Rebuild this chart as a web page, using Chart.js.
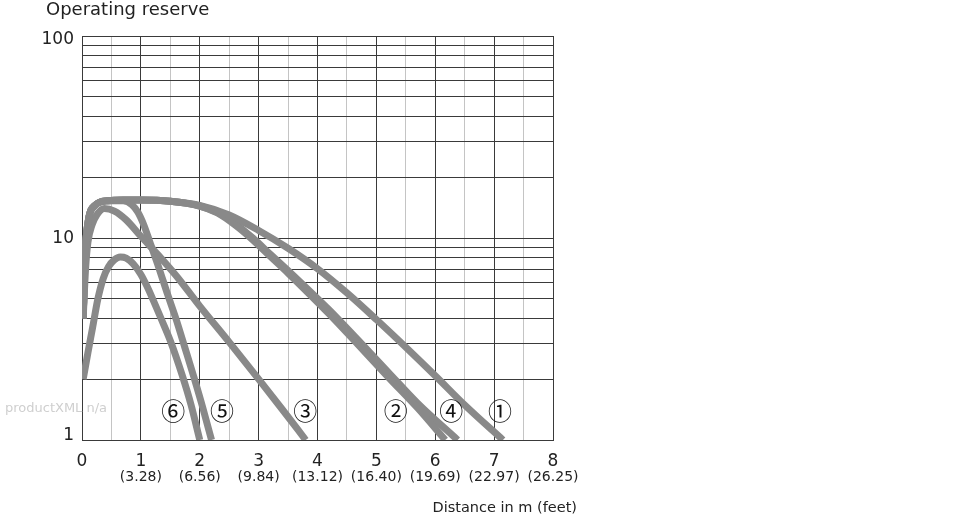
<!DOCTYPE html>
<html>
<head>
<meta charset="utf-8">
<script src="https://cdn.jsdelivr.net/npm/chart.js@4.4.1/dist/chart.umd.min.js"></script>
<style>
html,body{margin:0;padding:0;background:#fff;}
#wrap{position:relative;width:970px;height:520px;}
</style>
</head>
<body>
<div id="wrap"><canvas id="c" width="970" height="520"></canvas></div>
<script>
// ---- tick labels ----
const xTickValues = [0, 1, 2, 3, 4, 5, 6, 7, 8];
const xTickFeet = ["", "(3.28)", "(6.56)", "(9.84)", "(13.12)", "(16.40)", "(19.69)", "(22.97)", "(26.25)"];
const yTickLabels = [1, 10, 100];

// ---- curve data (distance in m, operating reserve) ----
const curve1X = [0.02, 0.05, 0.1, 0.22, 0.44, 0.7, 1.0, 1.5, 2.0, 2.5, 3.0, 3.5, 4.0, 4.5, 5.0, 5.5, 6.0, 6.5, 7.15];
const curve1Y = [4, 8, 11.8, 14.5, 15.3, 15.4, 15.4, 15.2, 14.5, 13.0, 10.9, 8.9, 7.05, 5.35, 3.95, 2.88, 2.08, 1.49, 1];

const curve2X = [0.02, 0.05, 0.1, 0.22, 0.44, 0.7, 1.0, 1.5, 2.0, 2.3, 2.6, 2.9, 3.2, 3.5, 3.8, 4.2, 4.7, 5.2, 5.7, 6.17];
const curve2Y = [4, 8, 11.8, 14.5, 15.3, 15.4, 15.4, 15.2, 14.4, 13.3, 11.6, 9.8, 8.1, 6.7, 5.5, 4.2, 2.94, 2.05, 1.44, 1];

const curve3X = [0.02, 0.06, 0.1, 0.17, 0.25, 0.38, 0.55, 0.75, 1.0, 1.3, 1.6, 2.0, 2.5, 3.0, 3.4, 3.8];
const curve3Y = [4, 7, 9.5, 11.6, 13.0, 14.0, 13.6, 12.3, 10.2, 8.2, 6.5, 4.6, 3.05, 2.0, 1.42, 1];

const curve4X = [0.02, 0.05, 0.1, 0.22, 0.44, 0.7, 1.0, 1.5, 2.0, 2.3, 2.6, 2.9, 3.2, 3.5, 3.8, 4.2, 4.7, 5.2, 5.7, 6.38];
const curve4Y = [4, 8, 11.8, 14.5, 15.3, 15.4, 15.4, 15.2, 14.4, 13.4, 11.8, 10.0, 8.3, 6.9, 5.7, 4.4, 3.1, 2.17, 1.52, 1];

const curve5X = [0.02, 0.05, 0.1, 0.22, 0.44, 0.7, 0.85, 0.95, 1.05, 1.15, 1.3, 1.45, 1.6, 1.75, 1.9, 2.05, 2.2];
const curve5Y = [4, 8, 11.8, 14.5, 15.3, 15.3, 14.6, 13.4, 11.6, 9.6, 7.2, 5.3, 3.95, 2.85, 2.05, 1.45, 1];

const curve6X = [0.02, 0.1, 0.18, 0.27, 0.36, 0.45, 0.55, 0.65, 0.75, 0.87, 1.0, 1.1, 1.2, 1.35, 1.5, 1.7, 1.85, 2.0];
const curve6Y = [2, 2.7, 3.6, 5.0, 6.3, 7.2, 7.8, 8.05, 7.95, 7.45, 6.6, 5.8, 5.0, 3.95, 3.1, 2.1, 1.5, 1];

// ---- curve labels ----
const curveLabels = ["①", "②", "③", "④", "⑤", "⑥"];
const curveLabelX = [7.1, 5.33, 3.79, 6.27, 2.38, 1.55];
const curveLabelY = [1.39, 1.39, 1.39, 1.39, 1.39, 1.39];

const FONT = "'DejaVu Sans', sans-serif";
const LINE_COLOR = '#898989';

function pts(xs, ys) { return xs.map((x, i) => ({ x: x, y: ys[i] })); }
const curves = [[curve1X, curve1Y], [curve2X, curve2Y], [curve3X, curve3Y], [curve4X, curve4Y], [curve5X, curve5Y], [curve6X, curve6Y]];

const datasets = curves.map((c, i) => ({
  label: curveLabels[i],
  data: pts(c[0], c[1]),
  borderColor: LINE_COLOR,
  borderWidth: 7,
  pointRadius: 0,
  fill: false,
  cubicInterpolationMode: 'monotone',
  borderCapStyle: 'butt',
  borderJoinStyle: 'round',
  clip: 0
}));

const yLabelOffset = { 1: -4, 10: 1, 100: 4 };

const extras = {
  id: 'extras',
  afterDraw(chart) {
    const ctx = chart.ctx;
    const xs = chart.scales.x, ys = chart.scales.y;
    ctx.save();
    ctx.fillStyle = '#222';
    ctx.textBaseline = 'middle';
    // title
    ctx.font = '18px ' + FONT;
    ctx.textAlign = 'left';
    ctx.fillText('Operating reserve', 46, 10);
    // y tick labels
    ctx.font = '17px ' + FONT;
    ctx.textAlign = 'right';
    yTickLabels.forEach(v => {
      ctx.fillText(String(v), 74, ys.getPixelForValue(v) + yLabelOffset[v]);
    });
    // x axis title
    ctx.font = '14.5px ' + FONT;
    ctx.textAlign = 'right';
    ctx.fillText('Distance in m (feet)', 577, 508);
    // feet labels
    ctx.font = '14px ' + FONT;
    ctx.textAlign = 'center';
    xTickValues.forEach((v, i) => {
      if (xTickFeet[i]) ctx.fillText(xTickFeet[i], xs.getPixelForValue(v), 477);
    });
    // curve labels
    ctx.font = "24px 'Noto Sans CJK JP', 'DejaVu Sans', sans-serif";
    ctx.fillStyle = '#111';
    ctx.textAlign = 'center';
    curveLabels.forEach((t, i) => {
      ctx.fillText(t, xs.getPixelForValue(curveLabelX[i]), ys.getPixelForValue(curveLabelY[i]));
    });
    // watermark
    ctx.font = '13px ' + FONT;
    ctx.fillStyle = '#cfcfcf';
    ctx.textAlign = 'left';
    ctx.fillText('productXML n/a', 5, 409);
    ctx.restore();
  }
};

new Chart(document.getElementById('c'), {
  type: 'line',
  data: { datasets: datasets },
  options: {
    responsive: false,
    animation: false,
    events: [],
    layout: { padding: { top: 36, right: 417, bottom: 0, left: 0 } },
    plugins: { legend: { display: false }, tooltip: { enabled: false }, title: { display: false } },
    scales: {
      x: {
        type: 'linear',
        min: 0, max: 8,
        afterFit(scale) { scale.height = 80; },
        afterBuildTicks(scale) {
          const t = [];
          for (let v = 0; v <= 16; v++) t.push({ value: v / 2 });
          scale.ticks = t;
        },
        ticks: {
          autoSkip: false,
          maxRotation: 0,
          padding: 11,
          color: '#222',
          font: { family: FONT, size: 17 },
          callback(v) { return Number.isInteger(v) && xTickValues.includes(v) ? String(v) : ''; }
        },
        grid: {
          drawTicks: false,
          color(ctx) { return Number.isInteger(ctx.tick.value) ? '#3a3a3a' : '#c4c4c4'; },
          lineWidth: 1
        },
        border: { display: true, color: '#3a3a3a', width: 1 }
      },
      y: {
        type: 'logarithmic',
        min: 1, max: 100,
        afterFit(scale) { scale.width = 82; },
        afterBuildTicks(scale) {
          const t = [];
          [1, 10].forEach(d => { for (let m = 1; m <= 9; m++) t.push({ value: d * m, major: m === 1 }); });
          t.push({ value: 100, major: true });
          scale.ticks = t;
        },
        ticks: {
          autoSkip: false,
          padding: 8,
          color: '#222',
          font: { family: FONT, size: 17 },
          callback() { return ''; }
        },
        grid: { drawTicks: false, color: '#3a3a3a', lineWidth: 1 },
        border: { display: true, color: '#3a3a3a', width: 1 }
      }
    }
  },
  plugins: [extras]
});
</script>
</body>
</html>
